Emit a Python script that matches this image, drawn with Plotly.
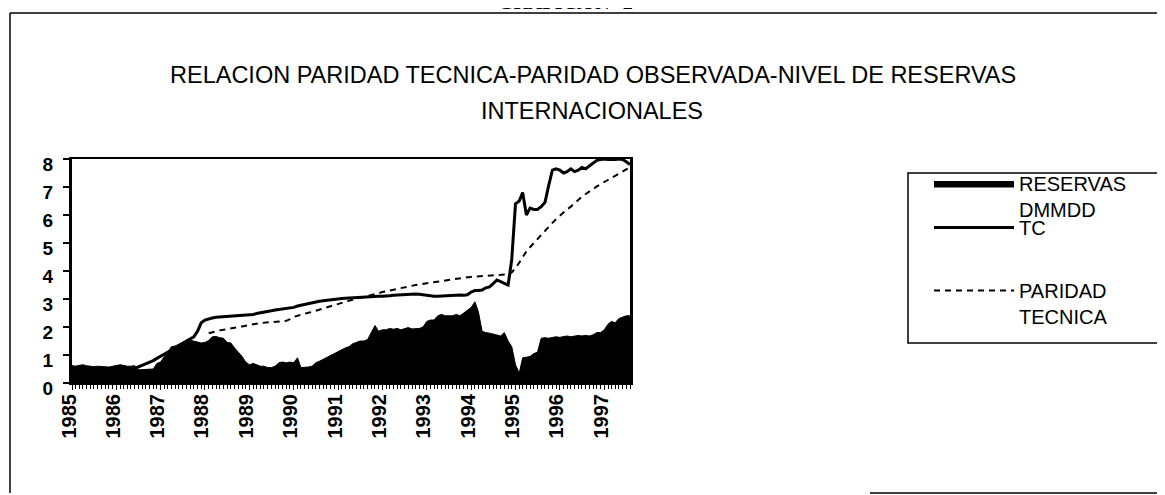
import plotly.graph_objects as go

# ---------------- data (monthly, Jan 1985 - Aug 1997) ----------------
months = [f"{1985 + m // 12}-{m % 12 + 1:02d}-01" for m in range(152)]

year_ticks = [f"{y}-01-01" for y in range(1985, 1998)]
year_labels = [str(y) for y in range(1985, 1998)]

reservas = [
    0.62, 0.6, 0.63, 0.65, 0.62, 0.6, 0.58, 0.6, 0.6, 0.58, 0.57, 0.6, 0.62, 0.65, 0.63, 0.6, 0.6, 0.62,
    0.47, 0.48, 0.47, 0.5, 0.5, 0.7,
    0.75, 0.95, 1.1, 1.3, 1.32,
    1.38, 1.45, 1.5, 1.53, 1.5, 1.45, 1.43,
    1.45, 1.52,
    1.65, 1.66, 1.62, 1.6,
    1.45, 1.43, 1.25, 1.1, 0.95, 0.75,
    0.65, 0.7, 0.65, 0.6, 0.6, 0.55, 0.55, 0.6,
    0.72, 0.75, 0.72, 0.75, 0.72,
    0.9,
    0.55, 0.55, 0.57, 0.6,
    0.72, 0.78, 0.85, 0.92, 1.0, 1.05, 1.12, 1.2, 1.25, 1.3, 1.4, 1.45, 1.5,
    1.5, 1.55, 1.8, 2.05,
    1.85, 1.9, 1.9, 1.95, 1.92, 1.95, 1.9, 1.95, 1.98, 1.93, 1.95, 1.95, 2.0,
    2.2, 2.25, 2.25,
    2.4, 2.45, 2.4, 2.4, 2.4, 2.45, 2.4,
    2.5, 2.6, 2.7, 2.9, 2.55,
    1.85, 1.8, 1.78, 1.75, 1.7, 1.68,
    1.8, 1.5, 1.3, 0.65, 0.35,
    0.9, 0.92, 0.95, 1.05, 1.1,
    1.6, 1.62, 1.6, 1.62, 1.65, 1.63, 1.65, 1.68, 1.65, 1.68, 1.7, 1.68, 1.7, 1.68, 1.72,
    1.8, 1.8, 1.9, 2.1, 2.2, 2.15, 2.3, 2.35, 2.4, 2.4,
]

tc = [
    0.22, 0.22, 0.23, 0.23, 0.24, 0.24, 0.26, 0.28, 0.3, 0.31, 0.34, 0.37, 0.39, 0.42, 0.45, 0.47, 0.5, 0.52,
    0.57, 0.62, 0.68, 0.74, 0.8, 0.88,
    0.95, 1.02, 1.1, 1.18, 1.27,
    1.35, 1.43, 1.5, 1.58, 1.65,
    1.85, 2.15,
    2.25, 2.3, 2.32,
    2.35, 2.36, 2.37, 2.38, 2.38, 2.39, 2.4, 2.41, 2.42, 2.43,
    2.45, 2.48, 2.5, 2.53, 2.56, 2.58, 2.61, 2.63, 2.65, 2.67, 2.69, 2.7,
    2.75, 2.78, 2.8, 2.83, 2.86, 2.9, 2.92, 2.94, 2.96, 2.98, 3.0, 3.0,
    3.02, 3.03, 3.04, 3.05, 3.06, 3.07, 3.08, 3.08, 3.09, 3.1, 3.1, 3.1,
    3.12, 3.12, 3.13, 3.14, 3.15, 3.16, 3.17, 3.18, 3.18, 3.17, 3.15, 3.12,
    3.1, 3.1, 3.1, 3.11, 3.12, 3.12, 3.14, 3.15, 3.14, 3.13, 3.15,
    3.25, 3.3, 3.3, 3.32, 3.4, 3.43, 3.55, 3.68, 3.62, 3.55, 3.5,
    4.4, 6.4, 6.5, 6.8, 6.0, 6.25, 6.2, 6.2, 6.3, 6.45, 7.05, 7.6, 7.65,
    7.6, 7.5, 7.55, 7.65, 7.55, 7.6, 7.7, 7.65, 7.75, 7.85,
    7.95, 7.98, 8.0, 7.98, 7.97, 7.98, 8.0, 7.98, 7.9, 7.8,
]

paridad_tecnica = [None] * 37 + [
    1.78,
    1.82, 1.85, 1.88, 1.9, 1.93, 1.96, 1.98, 2.0, 2.02, 2.05, 2.07,
    2.1, 2.12, 2.14, 2.15, 2.16, 2.17, 2.18, 2.18, 2.19, 2.22, 2.28, 2.36,
    2.4, 2.44, 2.48, 2.51, 2.54, 2.58, 2.62, 2.66, 2.7, 2.74, 2.78, 2.83,
    2.88, 2.92, 2.96, 3.0, 3.02, 3.04, 3.07, 3.1, 3.13, 3.17, 3.21, 3.25,
    3.28, 3.31, 3.34, 3.37, 3.4, 3.43, 3.46, 3.48, 3.5, 3.52, 3.54, 3.56,
    3.6, 3.62, 3.64, 3.66, 3.68, 3.7, 3.72, 3.74, 3.76, 3.77, 3.78, 3.79,
    3.8, 3.8, 3.81, 3.82, 3.83, 3.84, 3.85, 3.86, 3.87, 3.88,
    3.95, 4.1,
    4.3, 4.5, 4.7, 4.85, 5.0, 5.15, 5.3, 5.45, 5.6, 5.72, 5.85,
    5.98, 6.1, 6.2, 6.3, 6.42, 6.55, 6.65, 6.75, 6.85, 6.95, 7.02, 7.1,
    7.18, 7.26, 7.34, 7.42, 7.5, 7.57, 7.63, 7.7,
]

title_line1 = "RELACION PARIDAD TECNICA-PARIDAD OBSERVADA-NIVEL DE RESERVAS"
title_line2 = "INTERNACIONALES"

# ---------------- layout geometry (screen pixels) ----------------
OFF = 8                      # default page (body) margin of the html page
W, H = 1165 - OFF, 495 - OFF
PL, PR, PT_, PB = 72, 630, 159, 383   # plot area on screen


def px(sx):
    return (sx - PL) / (PR - PL)


def py(sy):
    return (PB - sy) / (PB - PT_)


FONT = "Liberation Sans, Arial, sans-serif"

fig = go.Figure()

fig.add_trace(go.Scatter(
    x=months, y=reservas, name="RESERVAS<br>DMMDD",
    mode="lines", fill="tozeroy", fillcolor="black",
    line=dict(color="black", width=1), legend="legend",
))
fig.add_trace(go.Scatter(
    x=months, y=tc, name="TC", mode="lines",
    line=dict(color="black", width=3), legend="legend2",
))
fig.add_trace(go.Scatter(
    x=months, y=paridad_tecnica, name="PARIDAD<br>TECNICA", mode="lines",
    line=dict(color="black", width=2, dash="6px,5px"), legend="legend3",
    connectgaps=False,
))

leg_common = dict(
    xanchor="left", yanchor="top", bgcolor="rgba(0,0,0,0)", borderwidth=0,
    font=dict(family=FONT, size=20, color="black"), itemwidth=80, valign="top",
    tracegroupgap=0,
)

fig.update_layout(
    width=W, height=H, autosize=False,
    margin=dict(l=PL - OFF, r=W - (PR - OFF), t=PT_ - OFF, b=H - (PB - OFF), pad=0),
    paper_bgcolor="white", plot_bgcolor="white",
    font=dict(family=FONT, color="black"),
    showlegend=True,
    legend=dict(x=px(929), y=py(164), **leg_common),
    legend2=dict(x=px(929), y=py(208), **leg_common),
    legend3=dict(x=px(929), y=py(271), **leg_common),
    xaxis=dict(
        type="date", range=[months[0], months[-1]],
        tickmode="array", tickvals=year_ticks, ticktext=year_labels,
        tickangle=-90, ticklabelshift=-3, ticklabelstandoff=-4,
        tickfont=dict(family=FONT, size=20, color="black", weight="bold"),
        ticks="outside", ticklen=5, tickwidth=1, tickcolor="black",
        minor=dict(ticks="outside", dtick="M1", tick0="1985-01-01", ticklen=4,
                   tickwidth=1, tickcolor="black", showgrid=False),
        showline=True, linecolor="black", linewidth=2, mirror=True,
        showgrid=False, zeroline=False,
    ),
    yaxis=dict(
        range=[0, 8], tickmode="linear", tick0=0, dtick=1,
        tickfont=dict(family=FONT, size=19, color="black", weight="bold"),
        ticks="outside", ticklen=6, tickwidth=1.5, tickcolor="black",
        ticklabelstandoff=6, ticklabelshift=5,
        showline=True, linecolor="black", linewidth=3, mirror=True,
        showgrid=False, zeroline=False,
    ),
)

# title (two lines)
fig.add_annotation(text=title_line1, xref="paper", yref="paper",
                   x=px(593), y=py(75), xanchor="center", yanchor="middle",
                   showarrow=False, font=dict(family=FONT, size=23.5, color="black"))
fig.add_annotation(text=title_line2, xref="paper", yref="paper",
                   x=px(592), y=py(111), xanchor="center", yanchor="middle",
                   showarrow=False, font=dict(family=FONT, size=23.5, color="black"))
# page heading cut off at the top of the scan
fig.add_annotation(text="GRAFICA N° 2", xref="paper", yref="paper",
                   x=px(565), y=py(15), xanchor="center", yanchor="bottom",
                   showarrow=False,
                   font=dict(family="Liberation Serif, Times New Roman, serif",
                             size=20, color="black", weight="bold"))

# outer frame and legend box
line_k = dict(color="black", width=1.5)
fig.add_shape(type="line", xref="paper", yref="paper",
              x0=px(10), x1=px(10), y0=py(13), y1=py(493), line=line_k)
fig.add_shape(type="line", xref="paper", yref="paper",
              x0=px(10), x1=px(1165), y0=py(13), y1=py(13), line=line_k)
fig.add_shape(type="line", xref="paper", yref="paper",
              x0=px(870), x1=px(1165), y0=py(493), y1=py(493), line=line_k)
fig.add_shape(type="rect", xref="paper", yref="paper",
              x0=px(908), x1=px(1163), y0=py(173), y1=py(343),
              line=dict(color="black", width=1.5), fillcolor="rgba(0,0,0,0)")

fig.write_html("out.html")
